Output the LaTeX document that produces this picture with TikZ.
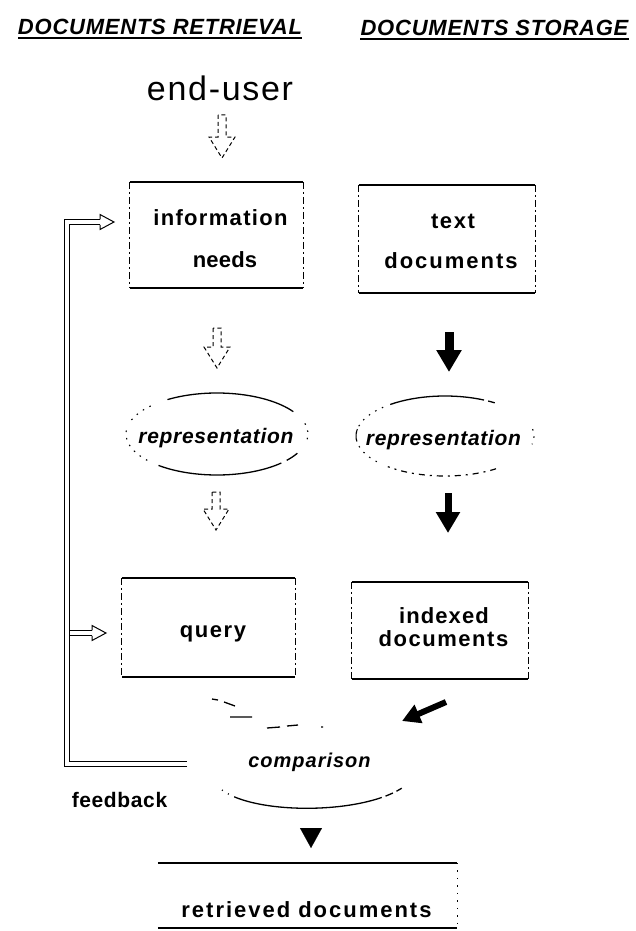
\documentclass[tikz,border=0pt]{standalone}
\usepackage{fontspec}
\setmainfont{Liberation Sans}
\usetikzlibrary{arrows.meta,shapes.geometric,calc}
\newcommand\earc[6]{\draw[#6] (#1) ++(#4:#2 and #3) arc[start angle=#4,end angle=#5,x radius=#2,y radius=#3];}
\newcommand\boxedges[1]{%
 \draw[topedge] (#1.north west) -- (#1.north east);
 \draw[botedge] (#1.south west) -- (#1.south east);
 \draw[sideedge] (#1.north west) -- (#1.south west);
 \draw[sideedge] (#1.north east) -- (#1.south east);}
\begin{document}
\begin{tikzpicture}[x=1pt,y=-1pt,
  lab/.style={inner sep=0pt,anchor=base,font=\bfseries\fontsize{22}{26}\selectfont\addfontfeature{LetterSpace=#1}},
  lab/.default=7,
  ital/.style={inner sep=0pt,anchor=base,font=\bfseries\itshape\fontsize{21}{25}\selectfont\addfontfeature{LetterSpace=#1}},
  ital/.default=3.4,
  title/.style={inner sep=0pt,anchor=base,font=\bfseries\itshape\fontsize{22}{26}\selectfont\addfontfeature{LetterSpace=3.5}},
  docbox/.style={rectangle,inner sep=0pt},
  topedge/.style={line width=1.6pt},
  botedge/.style={line width=2pt},
  sideedge/.style={line width=0.8pt,dash pattern=on 7pt off 3pt on 2pt off 3pt},
  rep/.style={ellipse,inner sep=0pt},
  fb/.style={double,double distance=4.5pt,line width=1pt},
  hhead/.style={line width=1pt,line join=miter,
    to path={let \p1=(\tikztostart),\p2=(\tikztotarget) in
      (\x1,\y1+2.75pt) -- (\x1,\y1+7.5pt) -- (\x2,\y2) -- (\x1,\y1-7.5pt) -- (\x1,\y1-2.75pt)}},
  hollowdn/.style={line width=1pt,dash pattern=on 4pt off 3pt,
    to path={let \p1=(\tikztostart),\p2=(\tikztotarget) in
      (\x1-4pt,\y1) -- (\x1-4pt,\y2+21pt) -- (\x1-13pt,\y2+21pt) -- (\x2,\y2)
      -- (\x1+13pt,\y2+21pt) -- (\x1+4pt,\y2+21pt) -- (\x1+4pt,\y1) -- cycle}},
  solidarc/.style={line width=1.3pt},
  dotarc/.style={line width=1.1pt,dash pattern=on 1.5pt off 6pt},
]
\useasboundingbox[fill=white] (0,0) rectangle (636,931);

% titles
\node[title] (tret) at (160,35) {DOCUMENTS RETRIEVAL};
\node[title] (tsto) at (494.5,36) {DOCUMENTS STORAGE};
\draw[line width=2.2pt] ([yshift=-3pt]tret.base west) -- ([yshift=-3pt]tret.base east);
\draw[line width=2.2pt] ([yshift=-3pt]tsto.base west) -- ([yshift=-3pt]tsto.base east);

\node[inner sep=0pt,anchor=base,font=\fontsize{34}{38}\selectfont\addfontfeature{LetterSpace=5}] (eu) at (220,101) {end-user};

% boxes
\node[docbox,minimum width=173pt,minimum height=106pt] (info) at (216.5,235) {};
\node[docbox,minimum width=176pt,minimum height=108pt] (txt) at (447,239) {};
\node[docbox,minimum width=173pt,minimum height=99pt] (qry) at (208.5,627.5) {};
\node[docbox,minimum width=176pt,minimum height=97pt] (idx) at (440,630.5) {};
\node[docbox,minimum width=299pt,minimum height=65pt] (ret) at (307.5,895.5) {};
\boxedges{info}
\boxedges{txt}
\boxedges{qry}
\boxedges{idx}
\draw[topedge] (ret.north west) -- (ret.north east);
\draw[botedge] (ret.south west) -- (ret.south east);
\draw[line width=0.9pt,dash pattern=on 1.5pt off 6pt] (ret.north east) -- (ret.south east);

% labels
\node[lab=6] (l1) at (220.5,225) {information};
\node[lab=1] (l2) at (225,267) {needs};
\node[lab=7] (l3) at (453,228) {text};
\node[lab=9] (l4) at (451,268) {documents};
\node[lab=7] (l5) at (213,637) {query};
\node[lab=5] (l6) at (444,623) {indexed};
\node[lab=7] (l7) at (443.5,646) {documents};
\node[lab=3] (fbk) at (119.5,807) {\fontsize{21}{25}\selectfont feedback};
\node[lab=9] (l8) at (306.5,917) {retrieved documents};

% representation ellipses
\node[rep,minimum width=182pt,minimum height=82pt] (rep1) at (217,434) {};
\node[rep,minimum width=178pt,minimum height=80pt] (rep2) at (445,436) {};
\node[ital] (r1l) at (216,443) {representation};
\node[ital] (r2l) at (443.5,445) {representation};
\earc{rep1.center}{91}{41}{237}{327}{solidarc}
\earc{rep1.center}{91}{41}{45}{130}{solidarc}
\earc{rep1.center}{91}{41}{200}{226}{dotarc}
\earc{rep1.center}{91}{41}{345}{370}{dotarc}
\earc{rep1.center}{91}{41}{28}{40}{solidarc}
\earc{rep1.center}{91}{41}{140}{190}{dotarc}
\earc{rep2.center}{89}{40}{232}{296}{solidarc}
\earc{rep2.center}{89}{40}{299}{304}{solidarc}
\earc{rep2.center}{89}{40}{172}{190}{line width=1pt}
\earc{rep2.center}{89}{40}{55}{130}{line width=1.2pt,dash pattern=on 6pt off 5pt on 2pt off 5pt}
\earc{rep2.center}{89}{40}{140}{226}{dotarc}
\earc{rep2.center}{89}{40}{-10}{12}{dotarc}

% comparison
\node[ital=5] (cmp) at (309.5,767) {\fontsize{20}{24}\selectfont comparison};
\coordinate (cb1) at (222,790);
\coordinate (cb2) at (405,786);
\draw[line width=1.3pt,dash pattern=on 1pt off 6pt on 1pt off 6pt on 150pt off 4pt on 8pt off 4pt on 6pt off 4pt on 2pt off 30pt]
  (cb1) .. controls (255,815) and (365,815) .. (cb2);
\draw[line width=1.3pt] (212,699) -- (218,700) (224,702) -- (235,706) (230,717) -- (252,717)
  (267,728) -- (280,727) (287,726) -- (298,725) (321,727) -- (323,727);

% dashed hollow arrows (retrieval column)
\coordinate (h1a) at (222,115); \coordinate (h1b) at (222,158);
\coordinate (h2a) at (217,328); \coordinate (h2b) at (217,368);
\coordinate (h3a) at (216,492); \coordinate (h3b) at (216,530);
\draw[hollowdn] (h1a) to (h1b);
\draw[hollowdn] (h2a) to (h2b);
\draw[hollowdn] (h3a) to (h3b);

% solid arrows (storage column)
\coordinate (a1s) at (449,332); \coordinate (a1e) at (449,372);
\coordinate (a2s) at (448,493); \coordinate (a2e) at (448,533);
\coordinate (a3s) at (446,702); \coordinate (a3e) at (402,721);
\coordinate (a4s) at (311,828); \coordinate (a4e) at (311,848);
\draw[line width=9pt,-{Triangle[length=22pt,width=24pt]}] (a1s) -- (a1e);
\draw[line width=7pt,-{Triangle[length=21pt,width=23pt]}] (a2s) -- (a2e);
\draw[line width=6pt,-{Triangle[length=18pt,width=19pt]}] (a3s) -- (a3e);
\draw[line width=0.1pt,-{Triangle[length=20pt,width=22pt]}] (a4s) -- (a4e);

% feedback loop
\coordinate (fb0) at (187,764);
\coordinate (fb1) at (67,764);
\coordinate (fb2) at (67,222);
\coordinate (fbib) at (100,222);
\coordinate (fbi) at (114,222);
\coordinate (fb3) at (70,633);
\coordinate (fbqb) at (92,633);
\coordinate (fbq) at (106,633);
\draw[fb] (fb0) -- (fb1) -- (fb2) -- (fbib);
\draw[hhead] (fbib) to (fbi);
\draw[fb] (fb3) -- (fbqb);
\draw[hhead] (fbqb) to (fbq);
\end{tikzpicture}
\end{document}
